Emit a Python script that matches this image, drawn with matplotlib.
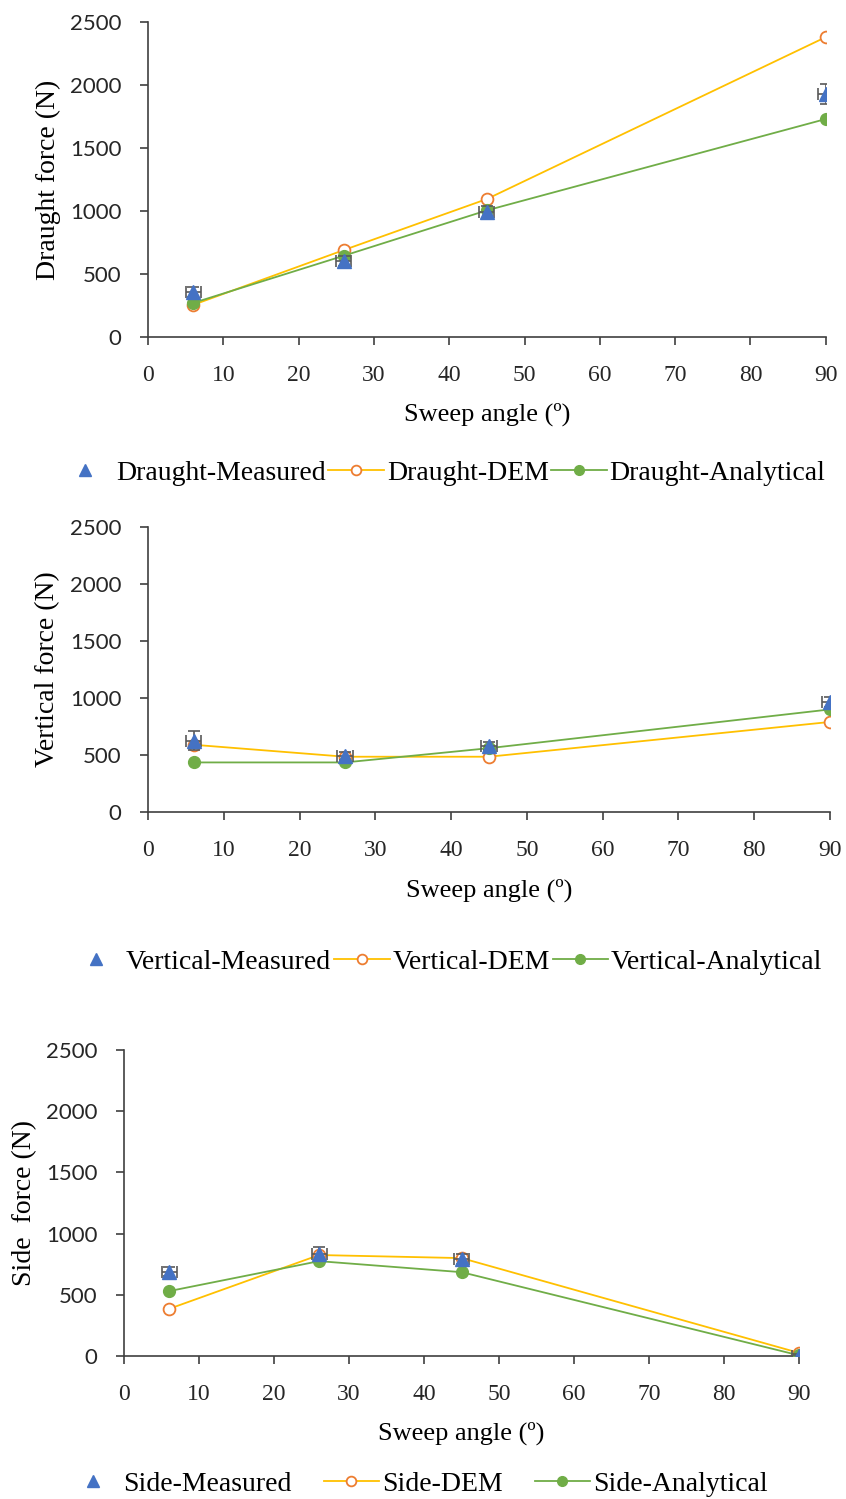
import matplotlib
matplotlib.use("Agg")
import matplotlib.pyplot as plt
from matplotlib.lines import Line2D

# Sweep angles (deg)
angles = [6, 26, 45, 90]

# Draught force (N)
draught_measured = [360, 600, 990, 1930]
draught_measured_err = [40, 40, 50, 80]
draught_dem = [255, 690, 1095, 2380]
draught_analytical = [270, 645, 1005, 1730]

# Vertical force (N)
vertical_measured = [625, 495, 580, 965]
vertical_measured_err = [85, 35, 35, 40]
vertical_dem = [590, 485, 485, 790]
vertical_analytical = [435, 435, 560, 900]

# Side force (N)
side_measured = [690, 835, 790, 0]
side_measured_err = [35, 55, 40, 15]
side_dem = [385, 825, 800, 25]
side_analytical = [530, 775, 685, 5]

angle_err = 1.0

panels = [
    ("Draught", "Draught force (N)", draught_measured, draught_measured_err, draught_dem, draught_analytical),
    ("Vertical", "Vertical force (N)", vertical_measured, vertical_measured_err, vertical_dem, vertical_analytical),
    ("Side", "Side  force (N)", side_measured, side_measured_err, side_dem, side_analytical),
]

rects = [
    (0.175, 0.7752, 0.801, 0.2101),
    (0.175, 0.4583, 0.806, 0.1901),
    (0.1466, 0.0954, 0.798, 0.2041),
]
ylabel_x = [-0.1475, -0.1466, -0.1467]
xlabel_y = [-0.244, -0.274, -0.252]
legend_xy = [(0.522, 0.6845), (0.526, 0.3582), (0.492, 0.0100)]
legend_colsp = [0.1, 0.1, 1.15]

BLUE = "#4472C4"
ORANGE = "#ED7D31"
YELLOW = "#FFC000"
GREEN = "#70AD47"
ERR = "#595959"
AXIS = "#404040"

SERIF = ["Liberation Serif", "DejaVu Serif"]
plt.rcParams.update({"font.family": SERIF})

fig = plt.figure(figsize=(8.46, 14.99), dpi=100)

for i, (name, ylabel, meas, meas_err, dem, ana) in enumerate(panels):
    ax = fig.add_axes(rects[i])
    ax.plot(angles, dem, color=YELLOW, lw=1.3, marker="o", ms=8.5,
            mfc="white", mec=ORANGE, mew=1.3, zorder=2)
    ax.plot(angles, ana, color=GREEN, lw=1.3, marker="o", ms=8.5,
            mfc=GREEN, mec=GREEN, zorder=3)
    ax.errorbar(angles, meas, yerr=meas_err, xerr=angle_err, fmt="^", color=BLUE,
                ms=10, ecolor=ERR, elinewidth=1.2, capsize=4, capthick=1.2, zorder=4)

    ax.set_xlim(0, 90)
    ax.set_ylim(0, 2500)
    ax.set_xticks(range(0, 91, 10))
    ax.set_yticks(range(0, 2501, 500))
    ax.spines["top"].set_visible(False)
    ax.spines["right"].set_visible(False)
    for s in ("left", "bottom"):
        ax.spines[s].set_color(AXIS)
        ax.spines[s].set_linewidth(1.2)
    ax.tick_params(direction="out", length=6, width=1.2, color=AXIS)
    ax.tick_params(axis="x", labelsize=17, pad=14)
    ax.tick_params(axis="y", pad=13)
    for lab in ax.get_xticklabels():
        lab.set_fontfamily(SERIF)
        lab.set_color("#262626")
    for lab in ax.get_yticklabels():
        lab.set_fontfamily("Lato")
        lab.set_fontsize(16)
        lab.set_color("#262626")

    ax.set_xlabel("Sweep angle (º)", fontsize=19)
    ax.xaxis.label.set_va("center")
    ax.xaxis.set_label_coords(0.5, xlabel_y[i])
    ax.set_ylabel(ylabel, fontsize=20)
    ax.yaxis.label.set_va("center")
    ax.yaxis.set_label_coords(ylabel_x[i], 0.5)

    handles = [
        Line2D([], [], ls="none", marker="^", ms=9, color=BLUE),
        Line2D([], [], color=YELLOW, lw=1.3, marker="o", ms=7, mfc="white", mec=ORANGE, mew=1.3),
        Line2D([], [], color=GREEN, lw=1.3, marker="o", ms=7, mfc=GREEN, mec=GREEN),
    ]
    labels = [f"{name}-Measured", f"{name}-DEM", f"{name}-Analytical"]
    fig.legend(handles, labels, loc="center", bbox_to_anchor=legend_xy[i], ncol=3,
               frameon=False, fontsize=20, handlelength=2.0, handletextpad=0.1,
               columnspacing=legend_colsp[i], borderaxespad=0, borderpad=0)

fig.savefig("out.png", dpi=100)
